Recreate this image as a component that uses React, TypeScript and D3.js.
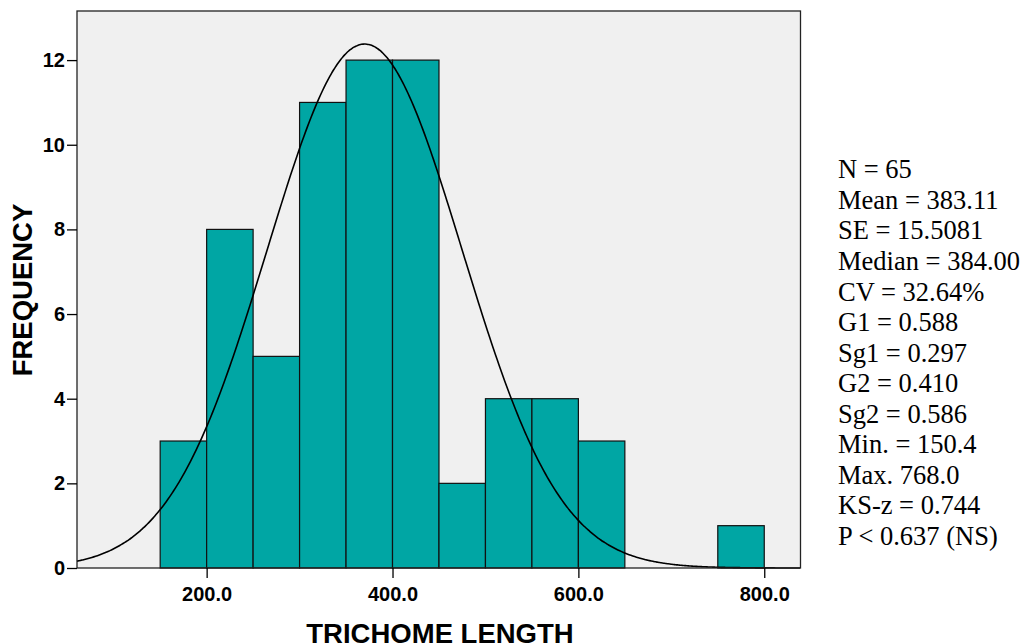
import React, { useEffect, useRef } from 'react';
import * as d3 from 'd3';

// histogram bins (lower edge, width 50) and counts
const binStarts = [150, 200, 250, 300, 350, 400, 450, 500, 550, 600, 650, 700, 750];
const binCounts = [3, 8, 5, 11, 12, 12, 2, 4, 4, 3, 0, 0, 1];
const binWidth = 50;

const xTicks = [200, 400, 600, 800];
const yTicks = [0, 2, 4, 6, 8, 10, 12];

// fitted normal curve as drawn
const curveMean = 370;
const curveSd = 105;
const curvePeak = 12.38;

const statLines = [
  'N = 65',
  'Mean = 383.11',
  'SE = 15.5081',
  'Median = 384.00',
  'CV = 32.64%',
  'G1 = 0.588',
  'Sg1 = 0.297',
  'G2 = 0.410',
  'Sg2 = 0.586',
  'Min. = 150.4',
  'Max. 768.0',
  'KS-z = 0.744',
  'P < 0.637 (NS)',
];

const W = 1026;
const H = 644;
const plot = { left: 77, right: 800.5, top: 11, bottom: 568 };

const App = () => {
  const ref = useRef<SVGSVGElement>(null);

  useEffect(() => {
    const svg = d3.select(ref.current);
    svg.selectAll('*').remove();

    const x = d3.scaleLinear().domain([60.5, 839]).range([plot.left, plot.right]);
    const y = d3.scaleLinear().domain([0, 13.16]).range([plot.bottom, plot.top]);

    svg.append('rect')
      .attr('x', plot.left).attr('y', plot.top)
      .attr('width', plot.right - plot.left).attr('height', plot.bottom - plot.top)
      .attr('fill', '#f0f0f0');

    const bins = binStarts.map((s, i) => ({ s, c: binCounts[i] })).filter(d => d.c > 0);
    svg.append('g').selectAll('rect')
      .data(bins)
      .enter().append('rect')
      .attr('x', d => x(d.s))
      .attr('y', d => y(d.c))
      .attr('width', d => x(d.s + binWidth) - x(d.s))
      .attr('height', d => y(0) - y(d.c))
      .attr('fill', '#00a6a4')
      .attr('stroke', '#111')
      .attr('stroke-width', 1.2);

    const xs = d3.range(60.5, 839, 2);
    const line = d3.line<number>()
      .x(v => x(v))
      .y(v => y(curvePeak * Math.exp(-((v - curveMean) ** 2) / (2 * curveSd * curveSd))))
      .curve(d3.curveBasis);
    svg.append('path')
      .attr('d', line(xs))
      .attr('fill', 'none')
      .attr('stroke', '#000')
      .attr('stroke-width', 1.6);

    // frame
    svg.append('rect')
      .attr('x', plot.left).attr('y', plot.top)
      .attr('width', plot.right - plot.left).attr('height', plot.bottom - plot.top)
      .attr('fill', 'none')
      .attr('stroke', '#222')
      .attr('stroke-width', 1.3);

    const yAxis = svg.append('g')
      .attr('transform', `translate(${plot.left},0)`)
      .call(d3.axisLeft(y).tickValues(yTicks).tickSize(10).tickPadding(2).tickFormat(d3.format('d')));
    yAxis.select('.domain').remove();
    yAxis.selectAll('line').attr('stroke', '#000').attr('stroke-width', 1.3);
    yAxis.selectAll('text')
      .attr('font-family', 'Liberation Sans, Arial, sans-serif')
      .attr('font-weight', 'bold')
      .attr('font-size', 20)
      .attr('fill', '#000');

    const xAxis = svg.append('g')
      .attr('transform', `translate(0,${plot.bottom})`)
      .call(d3.axisBottom(x).tickValues(xTicks).tickSize(10).tickPadding(9).tickFormat(d3.format('.1f')));
    xAxis.select('.domain').remove();
    xAxis.selectAll('line').attr('stroke', '#000').attr('stroke-width', 1.3);
    xAxis.selectAll('text')
      .attr('font-family', 'Liberation Sans, Arial, sans-serif')
      .attr('font-weight', 'bold')
      .attr('font-size', 20)
      .attr('fill', '#000');

    svg.append('text')
      .attr('x', 440).attr('y', 643)
      .attr('text-anchor', 'middle')
      .attr('font-family', 'Liberation Sans, Arial, sans-serif')
      .attr('font-weight', 'bold')
      .attr('font-size', 27.5)
      .text('TRICHOME LENGTH');

    svg.append('text')
      .attr('transform', 'translate(32,290) rotate(-90)')
      .attr('text-anchor', 'middle')
      .attr('font-family', 'Liberation Sans, Arial, sans-serif')
      .attr('font-weight', 'bold')
      .attr('font-size', 27.5)
      .text('FREQUENCY');

    svg.append('g').selectAll('text')
      .data(statLines)
      .enter().append('text')
      .attr('x', 838)
      .attr('y', (d, i) => 178.3 + i * 30.56)
      .attr('font-family', 'Liberation Serif, Times New Roman, serif')
      .attr('font-size', 26.5)
      .attr('fill', '#000')
      .text(d => d);
  }, []);

  return (
    <svg ref={ref} width={W} height={H}
      style={{ position: 'absolute', left: 0, top: 0, background: '#fff' }} />
  );
};

export default App;
